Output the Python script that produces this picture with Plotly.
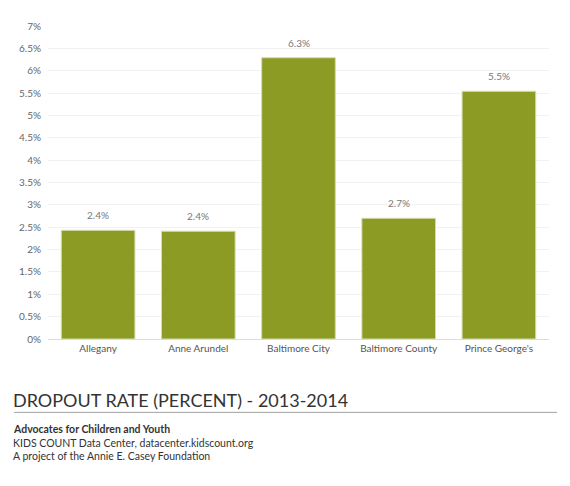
import plotly.graph_objects as go

categories = ["Allegany", "Anne Arundel", "Baltimore City", "Baltimore County", "Prince George's"]
values = [2.43, 2.41, 6.29, 2.70, 5.54]
value_labels = ["2.4%", "2.4%", "6.3%", "2.7%", "5.5%"]
tick_vals = [0, 0.5, 1, 1.5, 2, 2.5, 3, 3.5, 4, 4.5, 5, 5.5, 6, 6.5, 7]
tick_text = ["0%", "0.5%", "1%", "1.5%", "2%", "2.5%", "3%", "3.5%", "4%", "4.5%", "5%", "5.5%", "6%", "6.5%", "7%"]

FONT = "Lato"
OFF = 8  # page body margin
W, H = 570 - OFF, 486 - OFF
PLOT_TOP = 19 - OFF
PLOT_BOTTOM = 339 - OFF
PLOT_LEFT = 45 - OFF
PLOT_RIGHT = 549 - OFF
PH = PLOT_BOTTOM - PLOT_TOP
PW = PLOT_RIGHT - PLOT_LEFT

def py(p):
    return (PLOT_BOTTOM - (p - OFF)) / PH

def px(p):
    return ((p - OFF) - PLOT_LEFT) / PW

fig = go.Figure()
fig.add_trace(go.Bar(
    x=categories, y=values,
    marker=dict(color="#8b9b24", line=dict(color="#d6dcae", width=1)),
    width=0.735,
    hoverinfo="skip",
))

for c, v, t in zip(categories, values, value_labels):
    fig.add_annotation(
        x=c, y=v, text=t, showarrow=False,
        xanchor="center", yanchor="bottom", yshift=7,
        font=dict(size=10, color="#777777", family=FONT),
    )

fig.update_layout(
    width=W, height=H,
    margin=dict(l=PLOT_LEFT, r=W - PLOT_RIGHT, t=PLOT_TOP, b=H - PLOT_BOTTOM),
    paper_bgcolor="white", plot_bgcolor="white",
    showlegend=False,
    font=dict(family=FONT, color="#666666"),
)
fig.update_yaxes(
    range=[0, 7], tickvals=tick_vals, ticktext=tick_text,
    tickfont=dict(size=10, color="#666666", family=FONT),
    gridcolor="#f2f2f2", gridwidth=1, zeroline=False,
    showline=False, ticks="", ticklabelstandoff=6,
)
fig.update_xaxes(
    tickfont=dict(size=10, color="#555555", family=FONT),
    showline=True, linecolor="#d8dce6", linewidth=1,
    ticks="", showgrid=False,
)

fig.add_annotation(
    text="DROPOUT RATE (PERCENT) - 2013-2014",
    xref="paper", yref="paper", x=px(8), y=py(401),
    xanchor="left", yanchor="middle", showarrow=False,
    font=dict(size=18, color="#333333", family=FONT),
)
fig.add_shape(
    type="line", xref="paper", yref="paper",
    x0=px(11), x1=px(557), y0=py(414), y1=py(414),
    line=dict(color="#a0a0a0", width=1),
)
fig.add_annotation(
    text="<b>Advocates for Children and Youth</b>",
    xref="paper", yref="paper", x=px(8), y=py(431),
    xanchor="left", yanchor="middle", showarrow=False,
    font=dict(size=10.5, color="#333333", family=FONT),
)
fig.add_annotation(
    text="KIDS COUNT Data Center, datacenter.kidscount.org",
    xref="paper", yref="paper", x=px(8), y=py(445),
    xanchor="left", yanchor="middle", showarrow=False,
    font=dict(size=10.5, color="#333333", family=FONT),
)
fig.add_annotation(
    text="A project of the Annie E. Casey Foundation",
    xref="paper", yref="paper", x=px(8), y=py(459),
    xanchor="left", yanchor="middle", showarrow=False,
    font=dict(size=10.5, color="#333333", family=FONT),
)

fig.write_html("out.html")
